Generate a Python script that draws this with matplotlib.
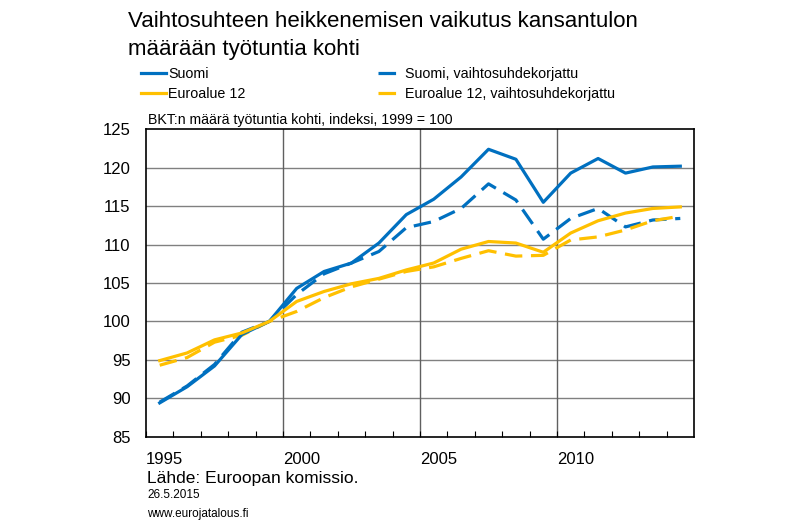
import matplotlib
matplotlib.use("Agg")
import matplotlib.pyplot as plt
import numpy as np

plt.rcParams['font.family'] = ['Liberation Sans', 'DejaVu Sans']

years = list(range(1995, 2015))
suomi = [89.4, 91.5, 94.2, 98.3, 100.0, 104.3, 106.5, 107.6, 110.2, 113.9,
         115.9, 118.8, 122.4, 121.1, 115.5, 119.3, 121.2, 119.3, 120.1, 120.2]
suomi_korj = [89.5, 91.6, 94.4, 98.6, 100.0, 103.5, 106.2, 107.6, 109.1, 112.2,
              113.0, 114.7, 117.9, 115.8, 110.7, 113.4, 114.7, 112.3, 113.2, 113.4]
euro = [94.9, 95.9, 97.6, 98.5, 100.0, 102.6, 103.9, 104.9, 105.6, 106.7,
        107.6, 109.4, 110.4, 110.2, 109.0, 111.5, 113.1, 114.1, 114.7, 114.9]
euro_korj = [94.3, 95.3, 97.3, 98.2, 100.0, 101.3, 103.1, 104.5, 105.5, 106.5,
             107.1, 108.2, 109.2, 108.5, 108.6, 110.6, 111.0, 111.9, 113.1, 113.7]

blue = '#0070C0'
yellow = '#FFC000'
dash = (0, (5.5, 2.7))
lw = 2.3

fig = plt.figure(figsize=(8, 5.22), dpi=100)
ax = fig.add_axes([146/800, 1-436.7/522, (694-146)/800, (436.7-129.3)/522])

l1, = ax.plot(years, suomi, color=blue, lw=lw, label='Suomi', zorder=4)
l2, = ax.plot(years, suomi_korj, color=blue, lw=lw, ls=dash, label='Suomi, vaihtosuhdekorjattu', zorder=3)
l3, = ax.plot(years, euro, color=yellow, lw=lw, label='Euroalue 12', zorder=4)
l4, = ax.plot(years, euro_korj, color=yellow, lw=lw, ls=dash, label='Euroalue 12, vaihtosuhdekorjattu', zorder=3)

ax.set_xlim(1994.5, 2014.5)
ax.set_ylim(85, 125)
ax.set_yticks(np.arange(85, 126, 5))
for v in range(90, 125, 5):
    ax.axhline(v, color='#808080', lw=1.0, zorder=1)
for v in [1999.5, 2004.5, 2009.5]:
    ax.axvline(v, color='#606060', lw=1.0, zorder=1)

ax.set_xticks([1994.5, 1999.5, 2004.5, 2009.5])
ax.set_xticklabels(['1995', '2000', '2005', '2010'], ha='left')
ax.set_xticks(np.arange(1995.5, 2014.5, 1), minor=True)
ax.tick_params(axis='x', which='both', direction='in', length=4, width=0.8, pad=11, labelsize=12)
ax.tick_params(axis='y', length=0, pad=11, labelsize=12)
for s in ax.spines.values():
    s.set_linewidth(1.2)
    s.set_color('black')

leg_kw = dict(loc='upper left', frameon=False, fontsize=10.3, handlelength=1.75,
              handletextpad=0.15, labelspacing=0.42, borderpad=0, borderaxespad=0)
fig.legend(handles=[l1, l3], bbox_to_anchor=(141/800, 1-67/522), **leg_kw)
fig.legend(handles=[l2, l4], bbox_to_anchor=(378/800, 1-67/522), **leg_kw)

fig.text(128/800, 1-27/522, 'Vaihtosuhteen heikkenemisen vaikutus kansantulon',
         fontsize=16, va='baseline', ha='left')
fig.text(128/800, 1-55/522, 'määrään työtuntia kohti',
         fontsize=16, va='baseline', ha='left')
fig.text(148/800, 1-124/522, 'BKT:n määrä työtuntia kohti, indeksi, 1999 = 100', fontsize=10.2, va='baseline')
fig.text(147/800, 1-483/522, 'Lähde: Euroopan komissio.', fontsize=12.5, va='baseline')
fig.text(147/800, 1-498/522, '26.5.2015', fontsize=8.5, va='baseline')
fig.text(147/800, 1-517/522, 'www.eurojatalous.fi', fontsize=8.5, va='baseline')

fig.savefig('out.png', dpi=100)
